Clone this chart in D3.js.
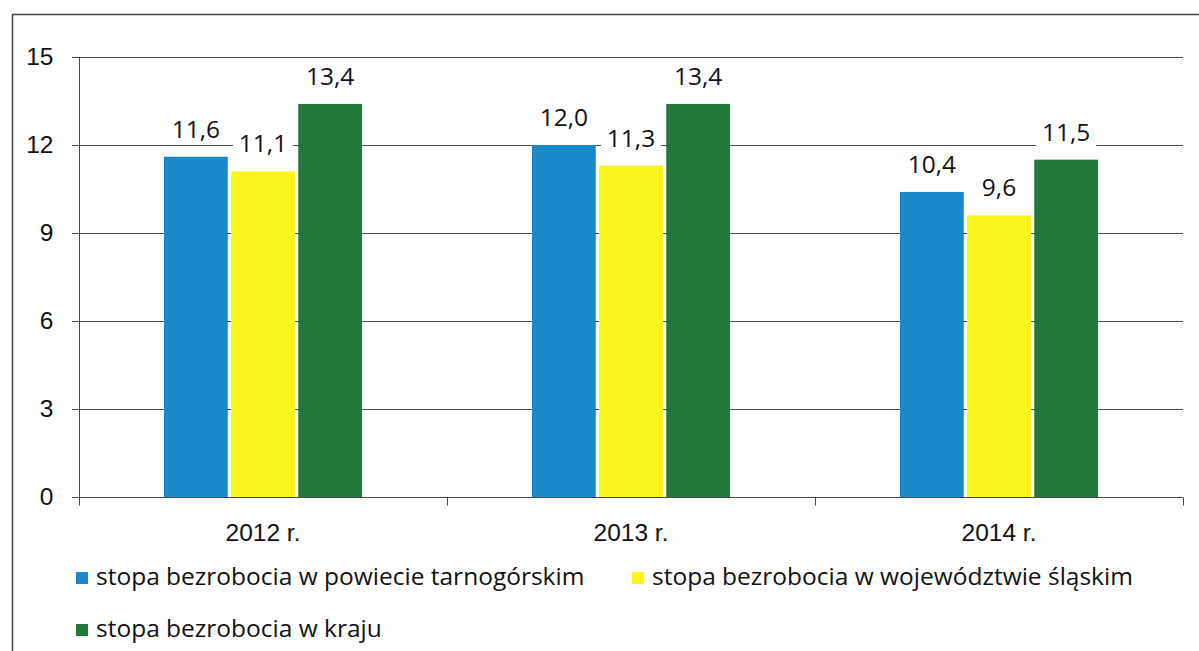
<!DOCTYPE html>
<head>
  <meta charset="utf-8">
  <script src="https://d3js.org/d3.v7.min.js"></script>
  <style>
    body { margin: 0; background: #fff; }
    svg { display: block; font-family: "Open Sans", sans-serif; }
  </style>
</head>
<body>
  <svg width="1199" height="651"></svg>
  <script>
    // data
    var years = ["2012 r.", "2013 r.", "2014 r."];
    var seriesNames = ["stopa bezrobocia w powiecie tarnogórskim",
                       "stopa bezrobocia w województwie śląskim",
                       "stopa bezrobocia w kraju"];
    var powiat = [11.6, 12.0, 10.4];
    var wojewodztwo = [11.1, 11.3, 9.6];
    var kraj = [13.4, 13.4, 11.5];
    var yTicks = [0, 3, 6, 9, 12, 15];
    var colors = ["#1a88ca", "#fbf51c", "#21773c"];

    var series = [powiat, wojewodztwo, kraj];
    var margin = {top: 57, right: 16, bottom: 154, left: 79};
    var width = 1199, height = 651;
    var fs = 24.5;
    var svg = d3.select('svg');

    // frame
    svg.append('path')
      .attr('d', 'M12.5,651 V14.5 H1199')
      .attr('fill', 'none').attr('stroke', '#444').attr('stroke-width', 1.5);

    var x = d3.scaleBand().domain(years)
      .range([margin.left, width - margin.right]);
    var inner = d3.scaleBand().domain([0, 1, 2])
      .range([0, 198]).paddingInner(0.05);
    var y = d3.scaleLinear().domain([0, 15])
      .range([height - margin.bottom, margin.top]);

    // gridlines
    svg.append('g').selectAll('line').data(yTicks.slice(1)).enter().append('line')
      .attr('x1', margin.left - 7).attr('x2', width - margin.right)
      .attr('y1', function(d){ return Math.round(y(d)) + 0.5; })
      .attr('y2', function(d){ return Math.round(y(d)) + 0.5; })
      .attr('stroke', '#4a4a4a').attr('stroke-width', 1.2);

    // y axis
    var yAxis = d3.axisLeft(y).tickValues(yTicks).tickSize(7).tickPadding(19)
      .tickFormat(d3.format('d'));
    var gy = svg.append('g').attr('transform', 'translate(' + (margin.left + 0.5) + ',0)').call(yAxis);
    gy.selectAll('text').attr('font-size', fs).attr('fill', '#111');
    gy.selectAll('line, path').attr('stroke', '#4a4a4a');
    gy.select('.domain').attr('d', 'M0,' + y(15) + 'V' + y(0));

    // bars
    var groups = svg.append('g').selectAll('g').data(years).enter().append('g')
      .attr('transform', function(d){ return 'translate(' + (x(d) + (x.bandwidth() - 198) / 2) + ',0)'; });
    groups.selectAll('rect').data(function(d, i){
        return series.map(function(s, k){ return {k: k, v: s[i]}; });
      }).enter().append('rect')
      .attr('x', function(d){ return inner(d.k); })
      .attr('width', inner.bandwidth())
      .attr('y', function(d){ return y(d.v); })
      .attr('height', function(d){ return y(0) - y(d.v); })
      .attr('fill', function(d){ return colors[d.k]; });

    // value labels
    var fmt = function(v){ return d3.format('.1f')(v).replace('.', ','); };
    var lab = groups.selectAll('g.lab').data(function(d, i){
        return series.map(function(s, k){ return {k: k, v: s[i]}; });
      }).enter().append('g').attr('class', 'lab')
      .attr('transform', function(d){ return 'translate(' + (inner(d.k) + inner.bandwidth() / 2) + ',' + (y(d.v) - 19) + ')'; });
    lab.append('rect').attr('x', -30).attr('y', -25).attr('width', 60).attr('height', 32).attr('fill', '#fff');
    lab.append('text').attr('text-anchor', 'middle').attr('font-size', fs).attr('fill', '#111')
      .text(function(d){ return fmt(d.v); });

    // x axis
    var xAxis = d3.axisBottom(x).tickSize(0).tickPadding(26);
    var gx = svg.append('g').attr('transform', 'translate(0,' + (y(0) + 0.5) + ')').call(xAxis);
    gx.selectAll('text').attr('font-size', fs).attr('fill', '#111');
    gx.select('.domain').attr('stroke', '#4a4a4a').attr('stroke-width', 1.2)
      .attr('d', 'M' + (margin.left - 7) + ',0H' + (width - margin.right));
    gx.selectAll('line.sep').data(x.domain().concat(['end'])).enter().append('line')
      .attr('class', 'sep')
      .attr('x1', function(d, i){ return Math.round(margin.left + i * x.bandwidth()) + 0.5; })
      .attr('x2', function(d, i){ return Math.round(margin.left + i * x.bandwidth()) + 0.5; })
      .attr('y1', 0).attr('y2', 8).attr('stroke', '#4a4a4a');

    // legend
    var legendPos = [[76, 585], [632, 585], [76, 637]];
    var lg = svg.append('g').selectAll('g').data(seriesNames).enter().append('g')
      .attr('transform', function(d, i){ return 'translate(' + legendPos[i] + ')'; });
    lg.append('rect').attr('x', 0).attr('y', -13).attr('width', 12).attr('height', 12)
      .attr('fill', function(d, i){ return colors[i]; });
    lg.append('text').attr('x', 20).attr('y', 0).attr('font-size', fs).attr('fill', '#111')
      .text(function(d){ return d; });
  </script>
</body>
</html>
